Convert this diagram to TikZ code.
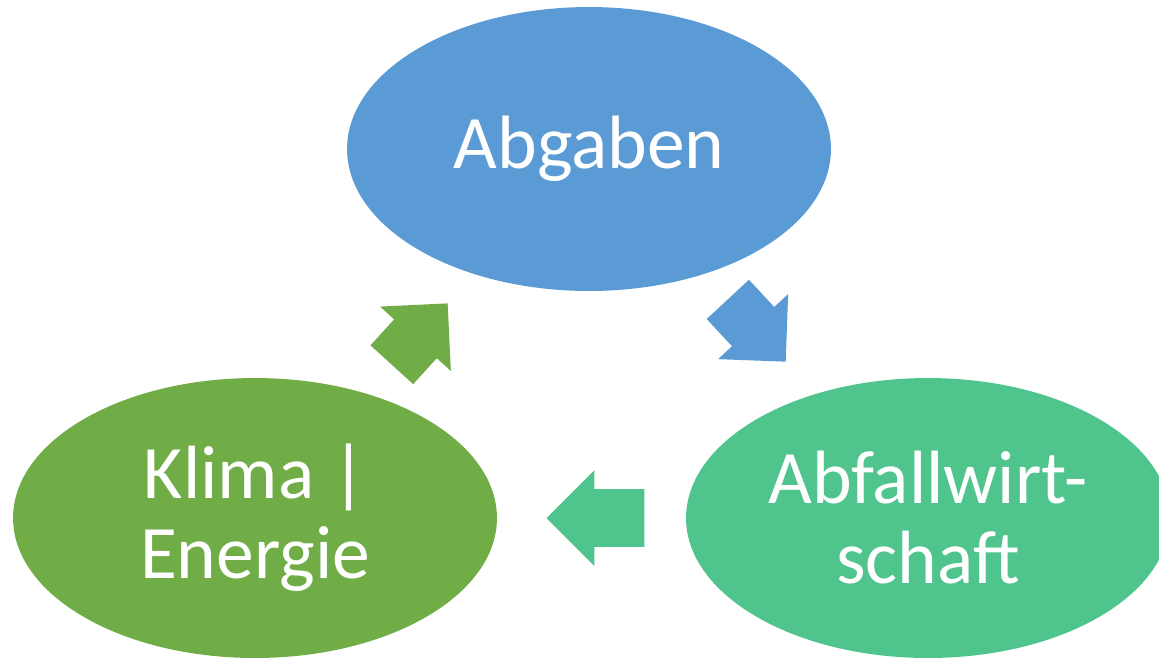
\documentclass[tikz,border=0pt]{standalone}
\usepackage{fontspec}
\setmainfont{Carlito}
\usepackage{tikz}
\usetikzlibrary{shapes.geometric,shapes.arrows,positioning}
\definecolor{abgblue}{HTML}{5B9BD5}
\definecolor{klimagreen}{HTML}{70AD47}
\definecolor{abfteal}{HTML}{4FC48C}
\tikzstyle{bubble}    = [ellipse, inner sep=0pt, minimum width=9.68cm, text=white, align=center, font=\fontsize{43}{45.5}\selectfont]
\tikzstyle{blockarrow} = [single arrow, anchor=tip, inner xsep=0pt, inner ysep=0.57cm, minimum width=1.9cm, single arrow head extend=0.38cm, single arrow tip angle=90]

\begin{document}
\begin{tikzpicture}[x=0.02cm,y=-0.02cm]
		\useasboundingbox (0,0) rectangle (1159,657);
		\clip (0,0) rectangle (1159,657);

		\node[bubble, fill=abgblue, minimum height=5.68cm] (abgaben) at (589,149) {Abgaben};
		\node[bubble, fill=klimagreen, minimum height=5.6cm] (klima) at (255,518) {Klima |\\Energie};
		\node[bubble, fill=abfteal, minimum height=5.6cm] (abfall) at (928,518) {Abfallwirt-\\schaft};

		\node[blockarrow, fill=klimagreen, minimum height=1.66cm, rotate=47.7] (pfeil1) at (448,303) {};
		\node[blockarrow, fill=abgblue, minimum height=1.7cm, rotate=-47.1] (pfeil2) at (786,362) {};
		\node[blockarrow, fill=abfteal, minimum height=1.96cm, rotate=180] (pfeil3) at (546,518) {};
	\end{tikzpicture}
\end{document}
